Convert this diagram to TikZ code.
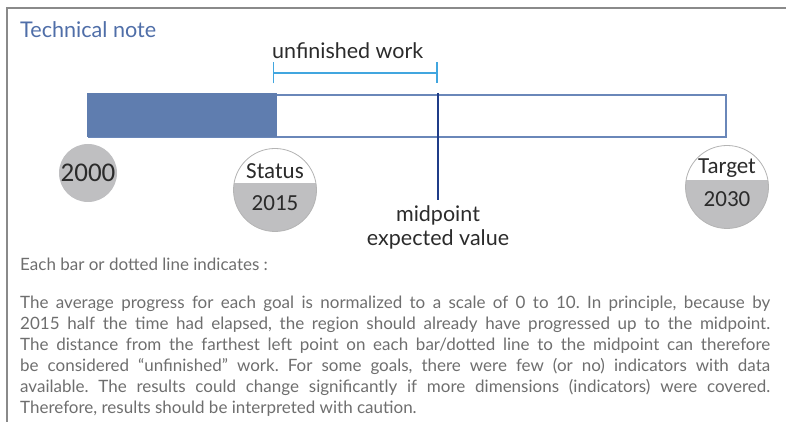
\documentclass[tikz,border=0pt]{standalone}
\usepackage{fontspec}
\setmainfont{Lato}
\newfontfamily\circfont{Carlito}
\usepackage{tikz}
\usetikzlibrary{arrows.meta}
\definecolor{notegray}{HTML}{8A8A8A}
\definecolor{titleblue}{HTML}{4F6EA8}
\definecolor{barblue}{HTML}{5F7DAF}
\definecolor{edgeblue}{HTML}{6A87B9}
\definecolor{midblue}{HTML}{1F3C88}
\definecolor{gapblue}{HTML}{41A6DF}
\definecolor{circgray}{HTML}{BFBFC1}
\definecolor{ringgray}{HTML}{B4B4B4}
\definecolor{bodygray}{HTML}{6E6E6E}
\definecolor{inkgray}{HTML}{2B2B2B}

\begin{document}
\frenchspacing
\begin{tikzpicture}[
            x = 1pt, y = -1pt, % pixel grid, y downwards
            inner sep = 0pt,
            line join = miter
        ]

        \tikzstyle{year}=[
            circle,
            fill = circgray,
            text = inkgray,
            font = \circfont\fontsize{27}{27}\selectfont
        ]
        \tikzstyle{split}=[
            circle,
            draw = ringgray,
            line width = 0.8pt,
            fill = circgray,
            minimum size = 83pt,
            path picture = {\fill[white] (path picture bounding box.north west) rectangle ([yshift=7pt]path picture bounding box.east);}
        ]
        \tikzstyle{circtext}=[
            text = inkgray,
            font = \circfont\fontsize{23}{23}\selectfont
        ]
        \tikzstyle{label}=[
            text = inkgray,
            font = \fontsize{21.5}{24}\selectfont,
            anchor = base
        ]

        \useasboundingbox (0,0) rectangle (786,427);
        % frame
        \coordinate (fr) at (786,8);
        \coordinate (fc) at (7,8);
        \coordinate (fb) at (7,422);
        \draw[notegray, line width = 2.5pt] (fr) -- (fc) -- (fb);
        \node[anchor = base west, text = titleblue, font = \fontsize{21.6}{21.6}\selectfont] (title) [at={(20,37.5)}] {Technical note};

        % bar
        \node[draw = edgeblue, line width = 2pt, minimum width = 637pt, minimum height = 42pt, anchor = north west] (bar) [at={(88,94)}] {};
        \node[fill = barblue, minimum width = 190pt, minimum height = 44pt, anchor = north west] (done) [at={(87,93)}] {};

        % unfinished work
        \coordinate (ua) at (272.5,73);
        \coordinate (ub) at (437.5,73);
        \draw[gapblue, line width = 1.5pt, {Bar[width=21pt]}-{Bar[width=21pt]}] (ua) -- (ub);
        \node[label, anchor = base west] (gap) [at={(272,59)}] {unfinished work};

        % midpoint
        \coordinate (mtop) at (438,93);
        \coordinate (mbot) at (438,200);
        \draw[midblue, line width = 2.3pt] (mtop) -- (mbot);
        \node[label] (midtxt) [at={(438,222)}] {midpoint};
        \node[label] (exptxt) [at={(438,246)}] {expected value};

        % years
        \node[year, minimum size = 58pt] (y2000) [at={(88,173)}] {2000};
        \node[split] (status) [at={(275,190)}] {};
        \node[circtext] (stat) [at={(275,171)}] {Status};
        \node[circtext] (y2015) [at={(275,203)}] {2015};
        \node[split] (target) [at={(727,187)}] {};
        \node[circtext] (targ) [at={(727,168)}] {Target};
        \node[circtext] (y2030) [at={(727,199)}] {2030};

        % notes
        \node[anchor = base west, text = bodygray, font = \fontsize{17}{21}\selectfont] (head) [at={(20,271)}] {Each bar or dotted line indicates :};
        \node[anchor = base west, text = bodygray, text width = 750pt, align = justify, font = \fontsize{17}{21}\selectfont] (body) [at={(20,308)}] {The average progress for each goal is normalized to a scale of 0 to 10. In principle, because by\linebreak
2015 half the time had elapsed, the region should already have progressed up to the midpoint.\linebreak
The distance from the farthest left point on each bar/dotted line to the midpoint can therefore\linebreak
be considered “unfinished” work. For some goals, there were few (or no) indicators with data\linebreak
available. The results could change significantly if more dimensions (indicators) were covered.\linebreak
Therefore, results should be interpreted with caution.};
      \end{tikzpicture}
\end{document}
